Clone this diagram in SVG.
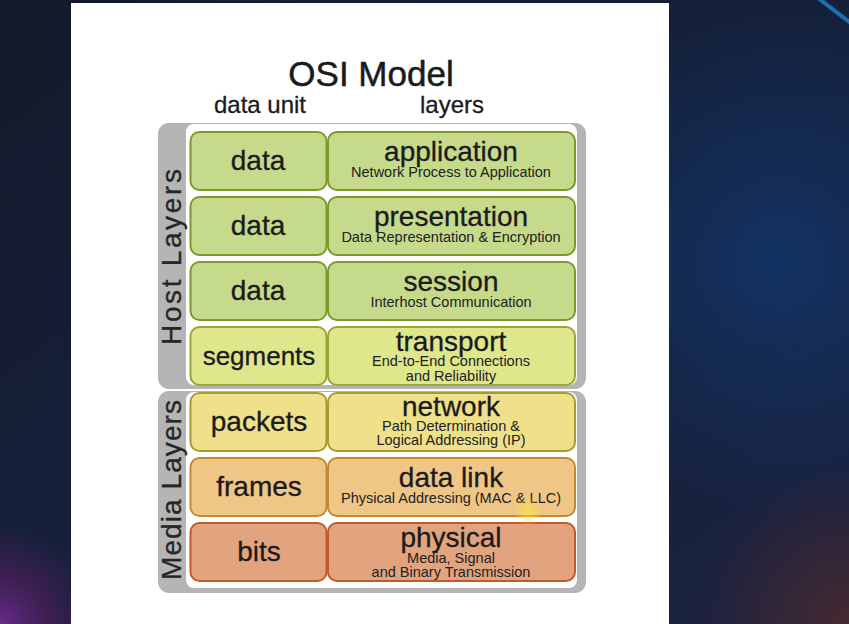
<svg xmlns="http://www.w3.org/2000/svg" width="849" height="624" viewBox="0 0 849 624">
<defs>
<linearGradient id="bg" x1="0" y1="0" x2="1" y2="1">
<stop offset="0" stop-color="#141a2c"/>
<stop offset="0.5" stop-color="#15203a"/>
<stop offset="1" stop-color="#1a2240"/>
</linearGradient>
<radialGradient id="blueGlow" cx="780" cy="260" r="260" gradientUnits="userSpaceOnUse">
<stop offset="0" stop-color="#123466" stop-opacity="0.9"/>
<stop offset="1" stop-color="#123466" stop-opacity="0"/>
</radialGradient>
<radialGradient id="purpleGlow" cx="0" cy="624" r="100" gradientUnits="userSpaceOnUse">
<stop offset="0" stop-color="#6a2a8a"/>
<stop offset="0.5" stop-color="#4a1f5a" stop-opacity="0.7"/>
<stop offset="1" stop-color="#4a1f5a" stop-opacity="0"/>
</radialGradient>
<radialGradient id="brownGlow" cx="849" cy="624" r="160" gradientUnits="userSpaceOnUse">
<stop offset="0" stop-color="#4a2a30" stop-opacity="0.9"/>
<stop offset="1" stop-color="#4a2a30" stop-opacity="0"/>
</radialGradient>
<radialGradient id="cursorGlow">
<stop offset="0" stop-color="#ffe040" stop-opacity="0.7"/>
<stop offset="1" stop-color="#ffe040" stop-opacity="0"/>
</radialGradient>
<style>
text{font-family:"Liberation Sans",Arial,sans-serif;fill:#1b1b1b;text-anchor:middle}
.title{font-size:35px;stroke:#1b1b1b;stroke-width:0.5}
.head{font-size:24px;stroke:#1b1b1b;stroke-width:0.3}
.unit{font-size:28px;stroke:#1b1b1b;stroke-width:0.3}
.name{font-size:28px;stroke:#1b1b1b;stroke-width:0.3}
.sub{font-size:14.5px;fill:#222}
.side{font-size:28px;fill:#262626;stroke:#262626;stroke-width:0.3}
.gray{fill:#b5b5b5}
.inner{fill:#ffffff}
.cell{stroke-width:2}
.g1{fill:#c6da8b;stroke:#7c9a2c}
.g2{fill:#dfe78d;stroke:#9ba533}
.g3{fill:#efe08a;stroke:#a89a32}
.g4{fill:#f0c687;stroke:#bf8a32}
.g5{fill:#e2a47f;stroke:#c0592c}
</style>
</defs>
<rect x="0" y="0" width="849" height="624" fill="url(#bg)"/>
<rect x="0" y="0" width="849" height="624" fill="url(#blueGlow)"/>
<rect x="0" y="0" width="849" height="624" fill="url(#purpleGlow)"/>
<rect x="0" y="0" width="849" height="624" fill="url(#brownGlow)"/>
<line x1="818" y1="-2" x2="852" y2="24" stroke="#1f6fb0" stroke-width="4"/>
<rect x="71" y="3" width="598" height="625" fill="#ffffff"/>

<g id="header">
<text class="title" x="371" y="86">OSI Model</text>
<text class="head" x="260" y="113">data unit</text>
<text class="head" x="452" y="113">layers</text>
</g>

<g id="host-layers">
<rect class="gray" x="158" y="123" width="428" height="266" rx="11"/>
<rect class="inner" x="186" y="124" width="391" height="261" rx="8"/>
<text class="side" transform="translate(181,257) rotate(-90)" textLength="176" lengthAdjust="spacing">Host Layers</text>
</g>
<g id="media-layers">
<rect class="gray" x="158" y="391" width="428" height="202" rx="11"/>
<rect class="inner" x="186" y="392" width="391" height="196" rx="8"/>
<text class="side" transform="translate(181,490) rotate(-90)" textLength="180" lengthAdjust="spacing">Media Layers</text>
</g>

<g id="application">
<rect class="cell g1" x="190.5" y="132" width="136" height="58" rx="9"/>
<rect class="cell g1" x="328" y="132" width="247" height="58" rx="9"/>
<text class="unit" x="258" y="170">data</text>
<text class="name" x="451" y="161">application</text>
<text class="sub" x="451" y="177">Network Process to Application</text>
</g>
<g id="presentation">
<rect class="cell g1" x="190.5" y="197" width="136" height="58" rx="9"/>
<rect class="cell g1" x="328" y="197" width="247" height="58" rx="9"/>
<text class="unit" x="258" y="235">data</text>
<text class="name" x="451" y="226">presentation</text>
<text class="sub" x="451" y="242">Data Representation &amp; Encryption</text>
</g>
<g id="session">
<rect class="cell g1" x="190.5" y="262" width="136" height="58" rx="9"/>
<rect class="cell g1" x="328" y="262" width="247" height="58" rx="9"/>
<text class="unit" x="258" y="300">data</text>
<text class="name" x="451" y="291">session</text>
<text class="sub" x="451" y="307">Interhost Communication</text>
</g>
<g id="transport">
<rect class="cell g2" x="190.5" y="327" width="136" height="58" rx="9"/>
<rect class="cell g2" x="328" y="327" width="247" height="58" rx="9"/>
<text class="unit" x="259" y="365" style="font-size:26px">segments</text>
<text class="name" x="451" y="351">transport</text>
<text class="sub" x="451" y="366">End-to-End Connections</text>
<text class="sub" x="451" y="381">and Reliability</text>
</g>
<g id="network">
<rect class="cell g3" x="190.5" y="393" width="136" height="58" rx="9"/>
<rect class="cell g3" x="328" y="393" width="247" height="58" rx="9"/>
<text class="unit" x="259" y="431">packets</text>
<text class="name" x="451" y="416">network</text>
<text class="sub" x="451" y="431">Path Determination &amp;</text>
<text class="sub" x="451" y="445">Logical Addressing (IP)</text>
</g>
<g id="data-link">
<rect class="cell g4" x="190.5" y="458" width="136" height="58" rx="9"/>
<rect class="cell g4" x="328" y="458" width="247" height="58" rx="9"/>
<text class="unit" x="259" y="496">frames</text>
<text class="name" x="451" y="487">data link</text>
<text class="sub" x="451" y="503">Physical Addressing (MAC &amp; LLC)</text>
</g>
<g id="physical">
<rect class="cell g5" x="190.5" y="523" width="136" height="58" rx="9"/>
<rect class="cell g5" x="328" y="523" width="247" height="58" rx="9"/>
<text class="unit" x="259" y="561">bits</text>
<text class="name" x="451" y="547">physical</text>
<text class="sub" x="451" y="563">Media, Signal</text>
<text class="sub" x="451" y="577">and Binary Transmission</text>
</g>
<g id="connectors"/>
<circle cx="528" cy="511" r="15" fill="url(#cursorGlow)"/>
</svg>
